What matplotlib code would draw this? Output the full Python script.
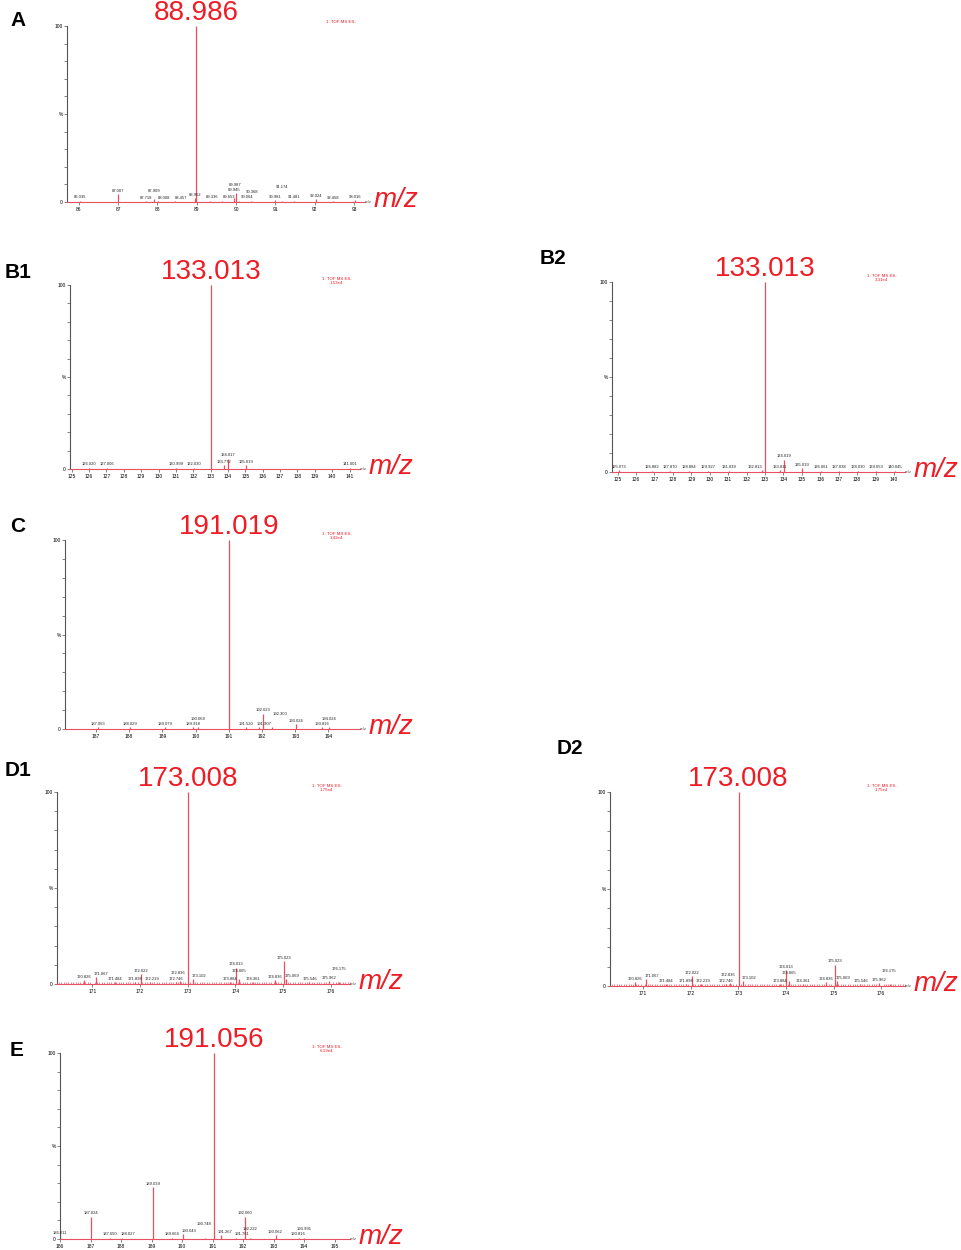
import matplotlib.pyplot as plt
from matplotlib.ticker import MultipleLocator, FixedLocator

plt.rcParams['font.family'] = ['Liberation Sans', 'DejaVu Sans']

W, H = 962, 1250

# ---- data (m/z, relative intensity %) ----
A_mz = [86.035, 87.007, 87.718, 87.909, 88.008, 88.457, 88.952, 88.986, 89.336, 89.653,
        89.945, 89.987, 90.064, 90.368, 90.981, 91.174, 91.481, 92.024, 92.458, 93.016]
A_int = [0.8, 4.5, 0.5, 1.5, 0.6, 0.6, 2.0, 100, 0.8, 0.8,
         2.0, 5.0, 0.8, 0.8, 1.0, 0.8, 0.8, 1.5, 0.6, 1.0]

B1_mz = [126.020, 127.006, 130.999, 132.030, 133.013, 133.772, 134.017, 135.019, 141.001]
B1_int = [0.8, 0.8, 0.8, 0.8, 100, 2.0, 5.5, 2.0, 0.8]

B2_mz = [125.073, 126.882, 127.870, 128.884, 129.927, 131.039, 132.813, 133.013,
         133.811, 134.019, 135.019, 136.061, 137.038, 138.030, 139.053, 140.045]
B2_int = [0.8, 0.6, 0.6, 0.6, 0.6, 0.6, 0.8, 100,
          1.0, 6.5, 2.0, 0.6, 0.6, 0.6, 0.6, 0.6]

C_mz = [187.063, 188.029, 189.079, 189.918, 190.068, 191.019, 191.520, 191.907,
        192.023, 192.300, 193.024, 193.816, 194.024]
C_int = [0.8, 0.8, 0.8, 0.8, 0.8, 100, 0.8, 1.0, 8.0, 0.8, 2.5, 0.8, 0.8]

D_mz = [170.826, 171.067, 171.484, 171.898, 172.022, 172.219, 172.746, 172.836, 173.008, 173.102,
        173.884, 174.013, 174.065, 174.361, 174.836, 175.023, 175.069, 175.546, 175.962, 176.175]
D1_int = [2.0, 3.5, 0.8, 1.0, 5.0, 0.8, 0.8, 1.5, 100, 2.5,
          1.0, 8.5, 2.5, 0.8, 2.0, 12.0, 2.5, 0.8, 1.5, 0.8]
D2_int = [2.0, 3.5, 0.8, 1.0, 5.0, 0.8, 0.8, 1.5, 100, 2.5,
          1.0, 8.0, 2.5, 0.8, 2.0, 11.0, 2.5, 0.8, 1.5, 0.8]

E_mz = [186.011, 187.024, 187.650, 188.027, 189.039, 189.664, 190.043, 190.748,
        191.056, 191.267, 191.761, 192.060, 192.222, 193.062, 193.816, 193.991]
E_int = [1.5, 12.0, 0.8, 0.8, 28.0, 0.8, 2.5, 0.8,
         100, 2.0, 0.8, 12.0, 0.8, 2.0, 0.8, 0.8]

# panel: name, mz, intensity, xlim, major ticks, scale label, noisy baseline,
# pixel box (left, right, top, baseline), letter position
panels = [
    ('A', A_mz, A_int, (85.7, 93.28), list(range(86, 94)), '', False, (67, 365, 26, 202), (10, 20)),
    ('B1', B1_mz, B1_int, (124.9, 141.6), list(range(125, 142)), '1.53e4', False, (70, 360, 285, 469), (5, 272)),
    ('B2', B2_mz, B2_int, (124.7, 140.6), list(range(125, 141)), '3.31e4', False, (612, 905, 282, 472), (540, 258)),
    ('C', C_mz, C_int, (186.07, 194.95), list(range(187, 195)), '3.43e4', False, (65, 360, 540, 729), (10, 527)),
    ('D1', D_mz, D1_int, (170.26, 176.4), list(range(171, 177)), '1.75e4', True, (57, 350, 792, 984), (5, 770)),
    ('D2', D_mz, D2_int, (170.31, 176.5), list(range(171, 177)), '1.75e4', True, (610, 905, 792, 986), (557, 748)),
    ('E', E_mz, E_int, (186.0, 195.5), list(range(186, 196)), '6.19e4', False, (60, 350, 1053, 1239), (10, 1050)),
]

peak_col = '#e8505f'
red = '#ee1c25'
LABEL_W = 17   # approx width of a small peak label, px
LABEL_H = 5

fig = plt.figure(figsize=(W / 100, H / 100), dpi=100)

for name, mz, inten, xlim, ticks, scale, noisy, box, letter in panels:
    x0, x1, top, base = box
    ax = fig.add_axes([x0 / W, 1 - base / H, (x1 - x0) / W, (base - top) / H])
    ax.vlines(mz, 0, inten, color=peak_col, lw=0.9)
    ax.set_xlim(*xlim)
    ax.set_ylim(0, 100)

    for s in ['top', 'right']:
        ax.spines[s].set_visible(False)
    ax.spines['left'].set_color('#555555')
    ax.spines['left'].set_linewidth(0.8)
    ax.spines['bottom'].set_color(peak_col)
    ax.spines['bottom'].set_linewidth(0.8)

    ax.xaxis.set_major_locator(FixedLocator(ticks))
    ax.set_xticklabels([str(t) for t in ticks])
    ax.tick_params(axis='x', which='major', length=2.5, width=0.5, color='#555555',
                   labelsize=3.5, pad=1)
    if noisy:
        ax.xaxis.set_minor_locator(MultipleLocator(0.05))
        ax.tick_params(axis='x', which='minor', direction='in', length=1.6, width=0.5, color=peak_col)
    ax.yaxis.set_major_locator(FixedLocator(list(range(0, 101, 10))))
    ax.set_yticklabels(['0', '', '', '', '', '%', '', '', '', '', '100'])
    ax.tick_params(axis='y', length=2, width=0.5, color='#555555', labelsize=3.5, pad=1)

    # small peak labels: nudge sideways a little, else lift one row
    px_per_x = (x1 - x0) / (xlim[1] - xlim[0])
    px_per_y = (base - top) / 100
    main = inten.index(max(inten))
    main_px = (mz[main] - xlim[0]) * px_per_x
    right_edge = (x1 - x0) - LABEL_W / 2
    cands = [0]
    for d in range(1, 9):
        cands += [d, -d]
    placed = []
    for i, (m, v) in enumerate(zip(mz, inten)):
        if i == main:
            continue
        px = (m - xlim[0]) * px_per_x
        py = v * px_per_y
        best = (0, 0)
        found = False
        for row in range(4):
            y = py + row * LABEL_H
            for c in cands:
                x = px + c
                if x > right_edge:
                    continue
                if abs(x - main_px) < LABEL_W / 2 + 1:
                    continue
                if any(abs(x - qx) < LABEL_W and abs(y - qy) < LABEL_H for qx, qy in placed):
                    continue
                best = (c, row)
                found = True
                break
            if found:
                break
        c, row = best
        placed.append((px + c, py + row * LABEL_H))
        ax.annotate(f'{m:.3f}', (m, v), xytext=(c * 0.72, 1 + row * LABEL_H * 0.72),
                    textcoords='offset points', ha='center', va='bottom',
                    fontsize=3.0, color='#222222')

    # base peak label
    ax.annotate(f'{mz[main]:.3f}', (mz[main], 100), xytext=(0, 0), textcoords='offset points',
                ha='center', va='bottom', fontsize=20, color=red, annotation_clip=False)

    # instrument label
    txt = '1: TOF MS ES-' if not scale else '1: TOF MS ES-\n' + scale
    ax.text(0.92, 1.02, txt, transform=ax.transAxes, ha='center', va='center',
            fontsize=3.2, color=red, linespacing=1.1)

    # axis-end m/z labels
    ax.text(1.0, 0.0, 'm/z', transform=ax.transAxes, ha='left', va='center',
            fontsize=3.2, color='#555555')
    ax.text(1.03, 0.01, 'm/z', transform=ax.transAxes, ha='left', va='center',
            fontsize=20, style='italic', color=red)

    fig.text(letter[0] / W, 1 - letter[1] / H, name, ha='left', va='center',
             fontsize=15, fontweight='bold', color='black')

fig.savefig('out.png', dpi=100, facecolor='white')
